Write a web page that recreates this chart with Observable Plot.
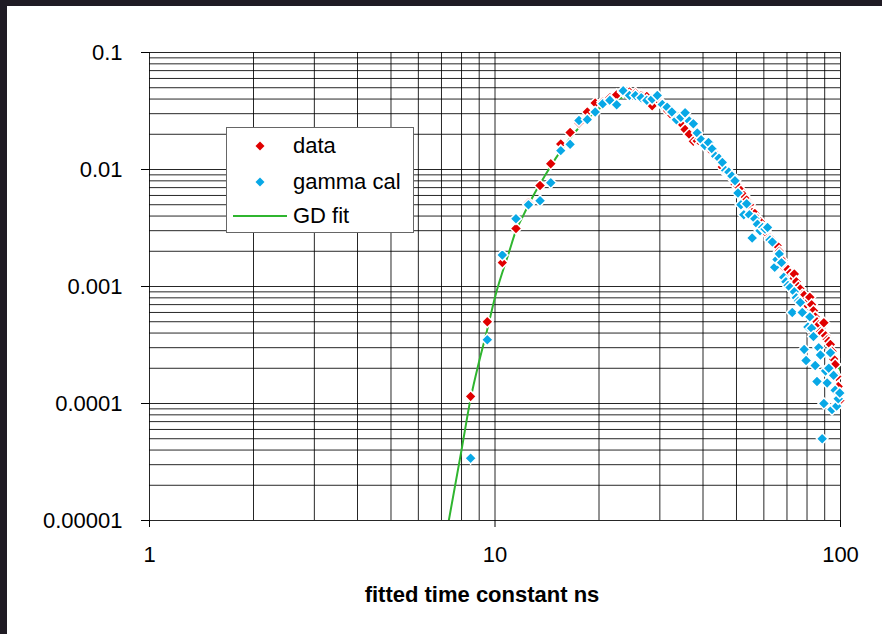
<!DOCTYPE html>
<html>
<head>
<meta charset="utf-8">
<script src="https://cdn.jsdelivr.net/npm/d3@7"></script>
<script src="https://cdn.jsdelivr.net/npm/@observablehq/plot@0.6"></script>
<style>
  html, body { margin: 0; padding: 0; background: #fff; }
  #wrap { position: relative; width: 882px; height: 634px; overflow: hidden; background: #fff;
          font-family: "Liberation Sans", Arial, sans-serif; }
  #chart { position: absolute; left: 0; top: 0; }
  .bar { position: absolute; background: #1f1b24; }
  #legend { position: absolute; left: 226px; top: 127px; width: 188px; height: 106px; box-sizing: border-box;
            border: 1px solid #666; background: #fff; }
  .lt { position: absolute; left: 66px; font-size: 22px; color: #000; line-height: 1; white-space: nowrap; }
  .lsym { position: absolute; }
  #xtitle { position: absolute; top: 584px; left: 282px; width: 400px; text-align: center; font-weight: bold;
            font-size: 22px; color: #000; line-height: 1; }
</style>
</head>
<body>
<div id="wrap">
  <div id="chart"></div>
  <div class="bar" style="left:0;top:0;width:882px;height:6px"></div>
  <div class="bar" style="left:0;top:0;width:7px;height:634px"></div>
  <div id="legend"></div>
  <div id="xtitle"></div>
</div>
<script>
// ---- data ----
const binCenters = [8.5, 9.5, 10.5, 11.5, 12.5, 13.5, 14.5, 15.5, 16.5, 17.5, 18.5, 19.5, 20.5, 21.5, 22.5, 23.5,
  24.5, 25.5, 26.5, 27.5, 28.5, 29.5, 30.5, 31.5, 32.5, 33.5, 34.5, 35.5, 36.5, 37.5, 38.5, 39.5, 40.5, 41.5,
  42.5, 43.5, 44.5, 45.5, 46.5, 47.5, 48.5, 49.5, 50.5, 51.5, 52.5, 53.5, 54.5, 55.5, 56.5, 57.5, 58.5, 59.5,
  60.5, 61.5, 62.5, 63.5, 64.5, 65.5, 66.5, 67.5, 68.5, 69.5, 70.5, 71.5, 72.5, 73.5, 74.5, 75.5, 76.5, 77.5,
  78.5, 79.5, 80.5, 81.5, 82.5, 83.5, 84.5, 85.5, 86.5, 87.5, 88.5, 89.5, 90.5, 91.5, 92.5, 93.5, 94.5, 95.5,
  96.5, 97.5, 98.5, 99.5];

const dataValues = [1.15e-4, 5.0e-4, 1.6e-3, 3.13e-3, 5.2e-3, 7.3e-3, 0.0112, 0.0165, 0.0207, 0.025, 0.031, 0.037,
  0.038, 0.041, 0.0436, 0.046, 0.046, 0.045, 0.043, 0.042, 0.035, 0.040, 0.036, 0.032, 0.029, 0.027, 0.025, 0.022,
  0.020, 0.0174, 0.0175, 0.0168, 0.016, 0.0152, 0.0142, 0.0136, 0.012, 0.0105, 0.0095, 0.0092, 0.0085, 0.0075,
  0.0072, 0.0066, 0.006, 0.0055, 0.005, 0.0043, 0.0042, 0.0038, 0.0036, 0.0032, 0.003, 0.0028, 0.0026, 0.0025,
  0.0023, 0.00224, 0.002, 0.0017, 0.00146, 0.0015, 0.0014, 0.0013, 0.00115, 0.00128, 0.0011, 0.001, 0.00095,
  0.00085, 0.00084, 0.00071, 0.00075, 0.00081, 0.0007, 0.00062, 0.00055, 0.0005, 0.00047, 0.00041, 0.0004,
  0.00049, 0.00038, 0.00035, 0.00034, 0.00032, 0.00028, 0.00024, 0.000215, 0.00017, 0.00014, 0.000106];

const gammaCalValues = [3.4e-5, 3.5e-4, 1.86e-3, 3.8e-3, 5.0e-3, 5.4e-3, 7.7e-3, 0.0145, 0.0164, 0.0262, 0.0267,
  0.031, 0.0365, 0.039, 0.0357, 0.047, 0.043, 0.043, 0.041, 0.039, 0.040, 0.043, 0.036, 0.034, 0.031, 0.0266,
  0.028, 0.0305, 0.026, 0.0246, 0.0205, 0.018, 0.016, 0.017, 0.015, 0.013, 0.0125, 0.0115, 0.0098, 0.0095,
  0.0088, 0.0080, 0.0063, 0.005, 0.0041, 0.0051, 0.0041, 0.0026, 0.0038, 0.0034, 0.0030, 0.0032, 0.0031, 0.0032,
  0.0025, 0.0024, 0.00146, 0.0017, 0.0019, 0.0016, 0.0012, 0.0011, 0.00102, 0.00098, 0.0006, 0.0009, 0.0008,
  0.00075, 0.00073, 0.0006, 0.00029, 0.000233, 0.00045, 0.00055, 0.00044, 0.000374, 0.000211, 0.000154, 0.0003,
  0.00026, 0.00005, 0.0001, 0.00019, 0.00015, 0.0002, 0.000271, 0.000089, 0.000174, 0.00013, 0.000095, 0.00011,
  0.000123];

const fitX = [7.35, 8.0, 8.5, 9.0, 9.5, 10, 11, 11.5, 12, 13, 14, 15, 16, 18, 20, 22, 24, 26, 28, 30, 33, 36, 40,
  45, 50, 55, 60, 65, 70, 75, 80, 85, 90, 95, 100];
const fitY = [1.0e-5, 4.0e-5, 1.1e-4, 2.3e-4, 4.3e-4, 8.1e-4, 2.0e-3, 3.0e-3, 3.9e-3, 6.2e-3, 9.0e-3, 0.0125,
  0.0165, 0.025, 0.033, 0.039, 0.042, 0.043, 0.041, 0.038, 0.032, 0.026, 0.019, 0.0125, 0.0072, 0.0046, 0.0031,
  0.0022, 0.00155, 0.00105, 0.00074, 0.00054, 0.00038, 0.00027, 0.00019];

const seriesNames = ["data", "gamma cal", "GD fit"];
const seriesColors = ["#e00000", "#08a8e6", "#2fb52f"];

const xTickValues = [1, 10, 100];
const xTickLabels = ["1", "10", "100"];
const yTickValues = [0.1, 0.01, 0.001, 0.0001, 0.00001];
const yTickLabels = ["0.1", "0.01", "0.001", "0.0001", "0.00001"];
const xGridValues = [1, 2, 3, 4, 5, 6, 7, 8, 9, 10, 20, 30, 40, 50, 60, 70, 80, 90, 100];
const yGridValues = [1e-5, 2e-5, 3e-5, 4e-5, 5e-5, 6e-5, 7e-5, 8e-5, 9e-5,
  1e-4, 2e-4, 3e-4, 4e-4, 5e-4, 6e-4, 7e-4, 8e-4, 9e-4,
  1e-3, 2e-3, 3e-3, 4e-3, 5e-3, 6e-3, 7e-3, 8e-3, 9e-3,
  1e-2, 2e-2, 3e-2, 4e-2, 5e-2, 6e-2, 7e-2, 8e-2, 9e-2, 1e-1];
const xTitle = "fitted time constant ns";

// ---- tables ----
const dataPts = binCenters.map((x, i) => ({x, y: dataValues[i]}));
const gammaPts = binCenters.map((x, i) => ({x, y: gammaCalValues[i]}));
const fitPts = fitX.map((x, i) => ({x, y: fitY[i]}));
const xLab = new Map(xTickValues.map((v, i) => [v, xTickLabels[i]]));
const yLab = new Map(yTickValues.map((v, i) => [v, yTickLabels[i]]));

const chart = Plot.plot({
  width: 882,
  height: 634,
  marginLeft: 149,
  marginRight: 42,
  marginTop: 52,
  marginBottom: 114,
  x: {type: "log", domain: [1, 100]},
  y: {type: "log", domain: [1e-5, 0.1]},
  style: {fontFamily: "'Liberation Sans', Arial, sans-serif", fontSize: "22px", color: "#000", background: "transparent", overflow: "visible"},
  marks: [
    Plot.gridX(xGridValues, {stroke: "#000", strokeOpacity: 0.85, strokeWidth: 1}),
    Plot.gridY(yGridValues, {stroke: "#000", strokeOpacity: 0.85, strokeWidth: 1}),
    Plot.axisY(yTickValues, {tickSize: 8, tickPadding: 19, tickFormat: d => yLab.get(d), label: null, stroke: "#000", fontSize: 22}),
    Plot.axisX(xTickValues, {tickSize: 7, tickPadding: 19, tickFormat: d => xLab.get(d), label: null, stroke: "#000", fontSize: 22}),
    Plot.line(fitPts, {x: "x", y: "y", stroke: seriesColors[2], strokeWidth: 2, clip: true, curve: "monotone-x"}),
    Plot.dot(dataPts, {x: "x", y: "y", symbol: "diamond2", r: 5.2, fill: seriesColors[0], stroke: "#fff", strokeWidth: 1.5}),
    Plot.dot(gammaPts, {x: "x", y: "y", symbol: "diamond2", r: 5.2, fill: seriesColors[1], stroke: "#fff", strokeWidth: 1.5})
  ]
});
document.getElementById("chart").appendChild(chart);

// ---- legend ----
const legend = document.getElementById("legend");
const rows = [
  {name: seriesNames[0], color: seriesColors[0], kind: "dot", cy: 18, top: 7},
  {name: seriesNames[1], color: seriesColors[1], kind: "dot", cy: 54, top: 43},
  {name: seriesNames[2], color: seriesColors[2], kind: "line", cy: 88, top: 77}
];
for (const r of rows) {
  const s = document.createElementNS("http://www.w3.org/2000/svg", "svg");
  s.setAttribute("class", "lsym");
  s.setAttribute("width", "60"); s.setAttribute("height", "14");
  s.style.left = "6px"; s.style.top = (r.cy - 7) + "px";
  if (r.kind === "dot") {
    const p = document.createElementNS("http://www.w3.org/2000/svg", "path");
    p.setAttribute("d", "M27,2.5L31.5,7L27,11.5L22.5,7Z");
    p.setAttribute("fill", r.color);
    s.appendChild(p);
  } else {
    const l = document.createElementNS("http://www.w3.org/2000/svg", "line");
    l.setAttribute("x1", "0"); l.setAttribute("x2", "54"); l.setAttribute("y1", "7"); l.setAttribute("y2", "7");
    l.setAttribute("stroke", r.color); l.setAttribute("stroke-width", "2");
    s.appendChild(l);
  }
  legend.appendChild(s);
  const t = document.createElement("div");
  t.className = "lt"; t.textContent = r.name; t.style.top = r.top + "px";
  legend.appendChild(t);
}
document.getElementById("xtitle").textContent = xTitle;
</script>
</body>
</html>
